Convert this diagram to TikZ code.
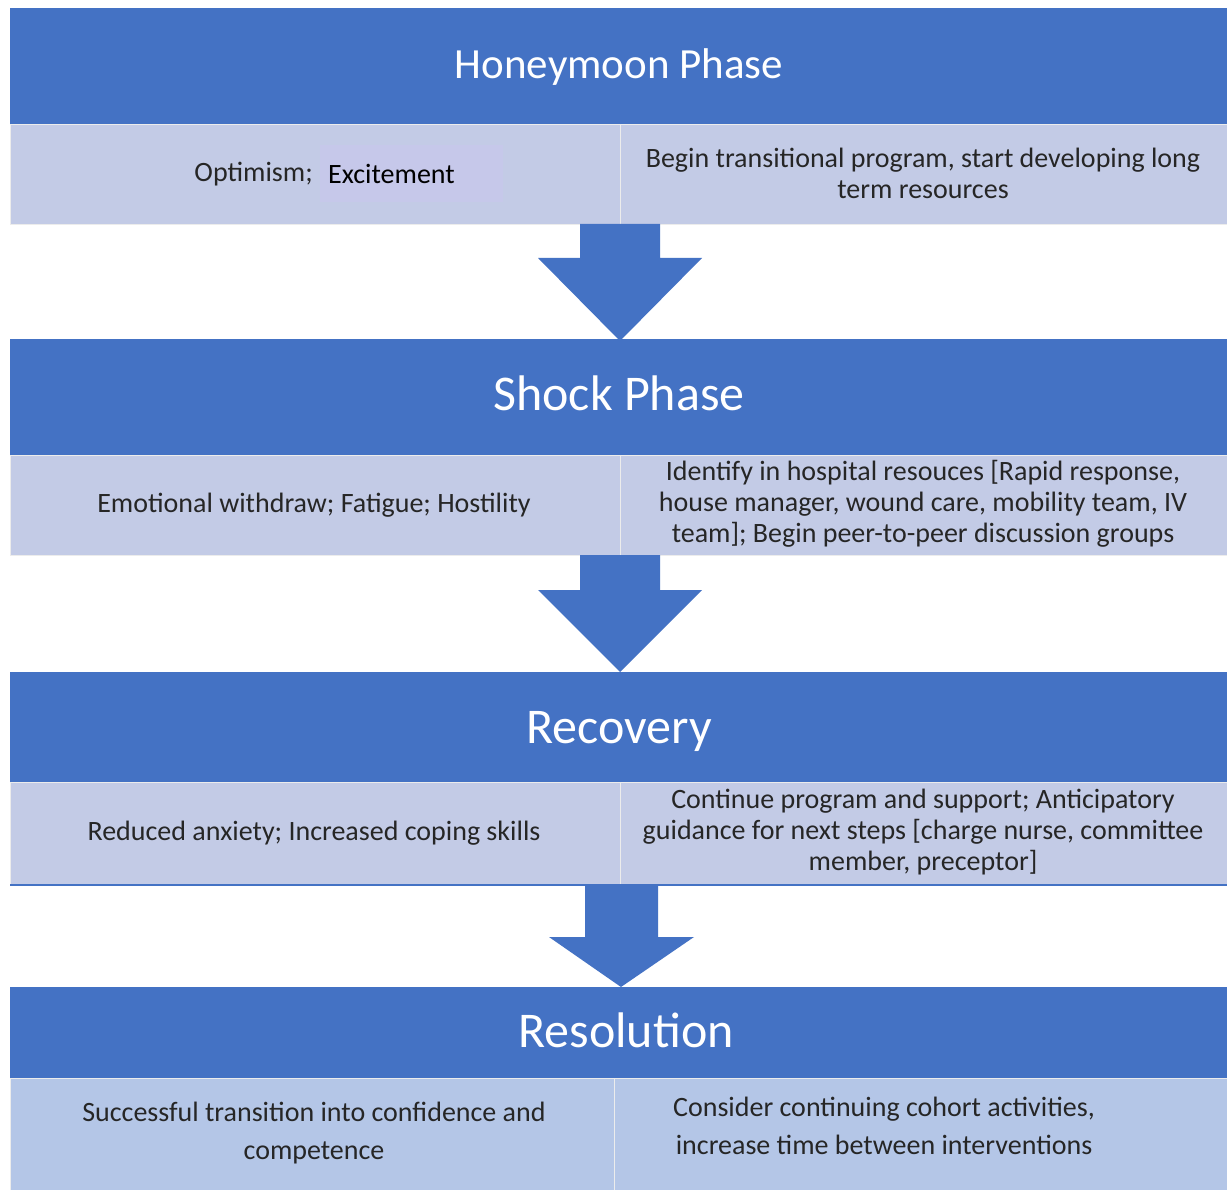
\documentclass[tikz,border=0pt]{standalone}
\usepackage{fontspec}
\setmainfont{Carlito}
\definecolor{hdr}{HTML}{4472C4}
\definecolor{rowc}{HTML}{C3CBE6}
\definecolor{rowd}{HTML}{B4C6E7}
\definecolor{hil}{HTML}{C6C8EA}
\definecolor{txt}{HTML}{262626}
\begin{document}
\begin{tikzpicture}[x=1pt,y=-1pt,
  hdrbox/.style={fill=hdr,draw=none},
  cellbox/.style={fill=rowc,draw=white!85!gray,line width=0.8pt},
  celldbox/.style={fill=rowd,draw=white!85!gray,line width=0.8pt},
  body/.style={text=txt,align=center,font=\fontsize{28}{31}\selectfont,inner sep=0pt},
  bodyd/.style={text=txt,align=center,font=\fontsize{28}{38}\selectfont,inner sep=0pt},
  head/.style={text=white,font=\fontsize{50}{58}\selectfont,inner sep=0pt},
  blockarrow/.style={fill=hdr,draw=none}]
\useasboundingbox (0,0) rectangle (1227,1190);
\fill[white] (0,0) rectangle (1227,1190);
% Honeymoon
\fill[hdrbox] (10,8) rectangle (1227,124);
\node[head,font=\fontsize{43}{50}\selectfont] (h1) at (619,67) {Honeymoon Phase};
\draw[cellbox] (10,124) rectangle (620,224);
\draw[cellbox] (620,124) rectangle (1228,224);
\fill[hil] (320,145) rectangle (503,202);
\node[body,anchor=east] (l1a) at (313,174) {Optimism;};
\node[body,anchor=west,text=black] (l1b) at (328,174) {Excitement};
\node[body] (r1) at (923,173) {Begin transitional program, start developing long\\term resources};
% arrow 1
\fill[blockarrow] (580,224) -- (660,224) -- (660,258) -- (702,258) -- (620,341) -- (538,258) -- (580,258) -- cycle;
% Shock
\fill[hdrbox] (10,339) rectangle (1227,455);
\node[head] (h2) at (619,393) {Shock Phase};
\draw[cellbox] (10,455) rectangle (620,555);
\draw[cellbox] (620,455) rectangle (1228,555);
\node[body] (l2) at (314,505) {Emotional withdraw; Fatigue; Hostility};
\node[body] (r2) at (923,504) {Identify in hospital resouces [Rapid response,\\house manager, wound care, mobility team, IV\\team]; Begin peer-to-peer discussion groups};
% arrow 2
\fill[blockarrow] (580,555) -- (660,555) -- (660,590) -- (702,590) -- (620,672) -- (538,590) -- (580,590) -- cycle;
% Recovery
\fill[hdrbox] (10,672) rectangle (1227,782);
\node[head] (h3) at (619,731) {Recovery};
\draw[cellbox] (10,782) rectangle (620,885);
\draw[cellbox] (620,782) rectangle (1228,885);
\draw[hdr,line width=1.2pt] (10,885) -- (1227,885);
\node[body] (l3) at (314,833) {Reduced anxiety; Increased coping skills};
\node[body] (r3) at (923,832) {Continue program and support; Anticipatory\\guidance for next steps [charge nurse, committee\\member, preceptor]};
% arrow 3
\fill[blockarrow] (585,886) -- (658,886) -- (658,937) -- (694,937) -- (621,987) -- (549,937) -- (585,937) -- cycle;
% Resolution
\fill[hdrbox] (10,987) rectangle (1227,1078);
\node[head] (h4) at (626,1030) {Resolution};
\draw[celldbox] (10,1078) rectangle (614,1191);
\draw[celldbox] (614,1078) rectangle (1228,1191);
\node[bodyd] (l4) at (314,1133) {Successful transition into confidence and\\competence};
\node[bodyd] (r4) at (884,1126) {Consider continuing cohort activities,\\increase time between interventions};
\end{tikzpicture}
\end{document}
